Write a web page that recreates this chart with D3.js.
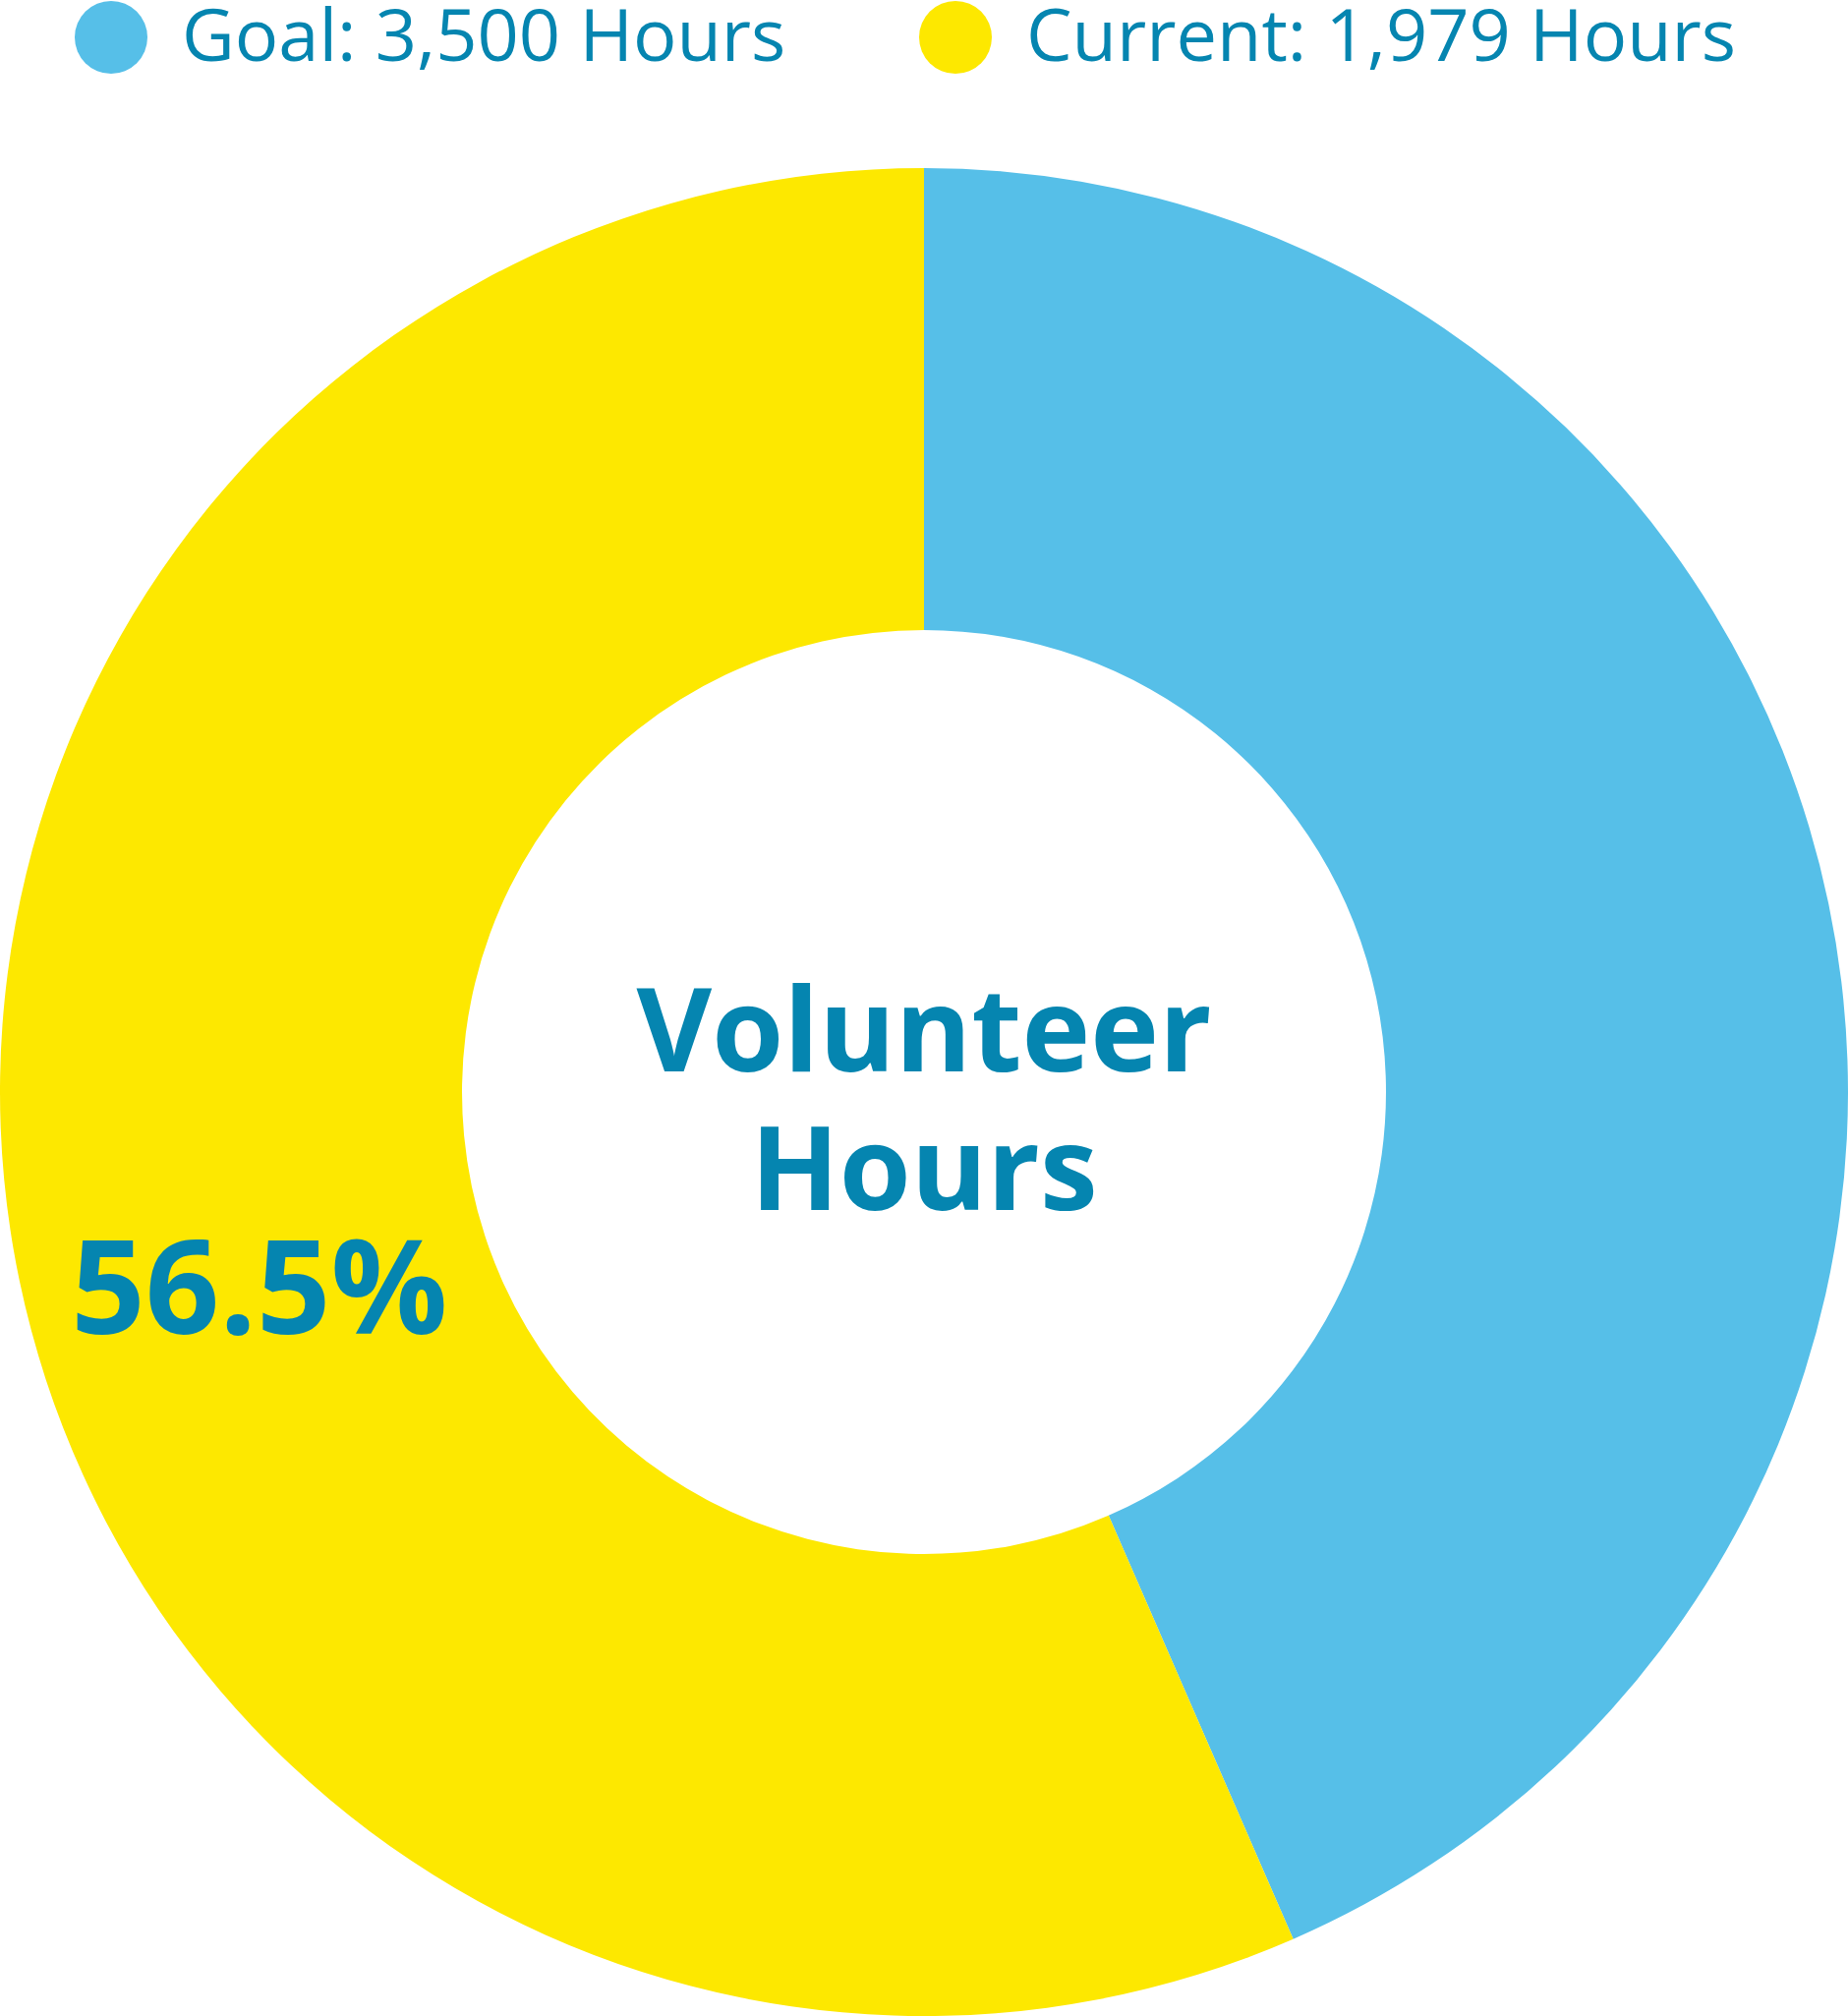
<!DOCTYPE html>
<html><head><meta charset="utf-8">
<script src="https://cdn.jsdelivr.net/npm/d3@7"></script>
<style>html,body{margin:0;padding:0;background:#fff;}svg{display:block;}</style>
</head><body>
<svg id="chart" width="1880" height="2051"></svg>
<script>
const categories = ["Remaining", "Current"];
const values = [1521, 1979];
const legendLabels = ["Goal: 3,500 Hours", "Current: 1,979 Hours"];
const centerLines = ["Volunteer", "Hours"];
const percentLabel = "56.5%";
const colors = ["#56bfe8", "#fde800"];
const textColor = "#0585b0";

const W = 1880, H = 2051;
const cx = 940, cy = 1111, outerR = 940, innerR = 470;
const svg = d3.select("#chart");

const pie = d3.pie().sort(null).value(d => d);
const arcs = pie(values);
const arc = d3.arc().innerRadius(innerR).outerRadius(outerR);

const g = svg.append("g").attr("transform", `translate(${cx},${cy})`);
g.selectAll("path").data(arcs).enter().append("path")
  .attr("d", arc).attr("fill", (d, i) => colors[i]);

// percent label on current slice
const c = arc.centroid(arcs[1]);
g.append("text").attr("x", c[0] + 14).attr("y", c[1] + 102)
  .attr("text-anchor", "middle")
  .attr("font-family", "'Open Sans', sans-serif").attr("font-weight", 700)
  .attr("font-size", 132).attr("fill", textColor).text(percentLabel);

// center text
g.selectAll("text.center").data(centerLines).enter().append("text")
  .attr("class", "center")
  .attr("x", 0).attr("y", (d, i) => -21 + i * 141)
  .attr("text-anchor", "middle")
  .attr("font-family", "'Open Sans', sans-serif").attr("font-weight", 700)
  .attr("font-size", 118).attr("fill", textColor).text(d => d);

// legend
const legendX = [113, 972];
const lg = svg.append("g");
const items = lg.selectAll("g").data(legendLabels).enter().append("g")
  .attr("transform", (d, i) => `translate(${legendX[i]},38)`);
items.append("circle").attr("r", 37).attr("fill", (d, i) => colors[i]);
items.append("text").attr("x", 72).attr("y", 24)
  .attr("font-family", "'Open Sans', sans-serif").attr("font-size", 74)
  .attr("fill", textColor).text(d => d);
</script>
</body></html>
